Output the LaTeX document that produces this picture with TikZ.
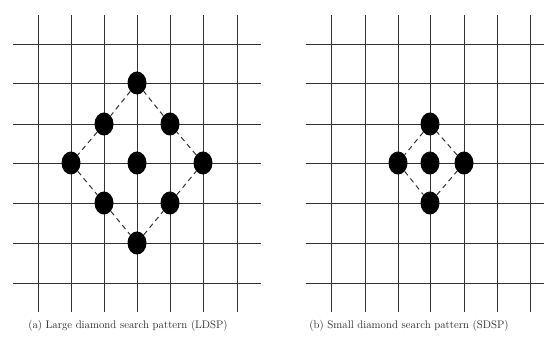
\documentclass[tikz,border=0pt]{standalone}
\usetikzlibrary{shapes.geometric}
\begin{document}
\begin{tikzpicture}[x=1pt,y=-1pt,
  gridline/.style={line width=0.9pt,black!80},
  dot/.style={ellipse,fill=black,draw=none,minimum width=19pt,minimum height=23pt,inner sep=0pt},
  dashlink/.style={line width=1pt,black!80,dash pattern=on 5pt off 4pt},
  caption/.style={font=\fontsize{11}{13}\selectfont,inner sep=0pt,text=black!85}]
\useasboundingbox (0,0) rectangle (544,352);
% left grid
\foreach \x in {38,71,104,137,170,203,237} \draw[gridline] (\x,15) -- (\x,312);
\foreach \y in {44,83,124,163,203,243,283} \draw[gridline] (13,\y) -- (261,\y);
% right grid
\foreach \x in {331,365,398,430,464,497,530} \draw[gridline] (\x,15) -- (\x,312);
\foreach \y in {44,83,124,163,203,243,283} \draw[gridline] (306,\y) -- (544,\y);
% LDSP
\node[dot] (lt) at (137,83) {};
\node[dot] (lul) at (104,124) {};
\node[dot] (lur) at (170,124) {};
\node[dot] (ll) at (71,163) {};
\node[dot] (lc) at (137,163) {};
\node[dot] (lr) at (203,163) {};
\node[dot] (lbl) at (104,203) {};
\node[dot] (lbr) at (170,203) {};
\node[dot] (lb) at (137,243) {};
\draw[dashlink] (lt) -- (lul) -- (ll) -- (lbl) -- (lb) -- (lbr) -- (lr) -- (lur) -- (lt);
% SDSP
\node[dot] (st) at (430,124) {};
\node[dot] (sl) at (398,163) {};
\node[dot] (sc) at (430,163) {};
\node[dot] (sr) at (464,163) {};
\node[dot] (sb) at (430,203) {};
\draw[dashlink] (st) -- (sl) -- (sb) -- (sr) -- (st);
% captions
\node[caption] (capa) at (128,326) {(a) Large diamond search pattern (LDSP)};
\node[caption] (capb) at (409,326) {(b) Small diamond search pattern (SDSP)};
\end{tikzpicture}
\end{document}
